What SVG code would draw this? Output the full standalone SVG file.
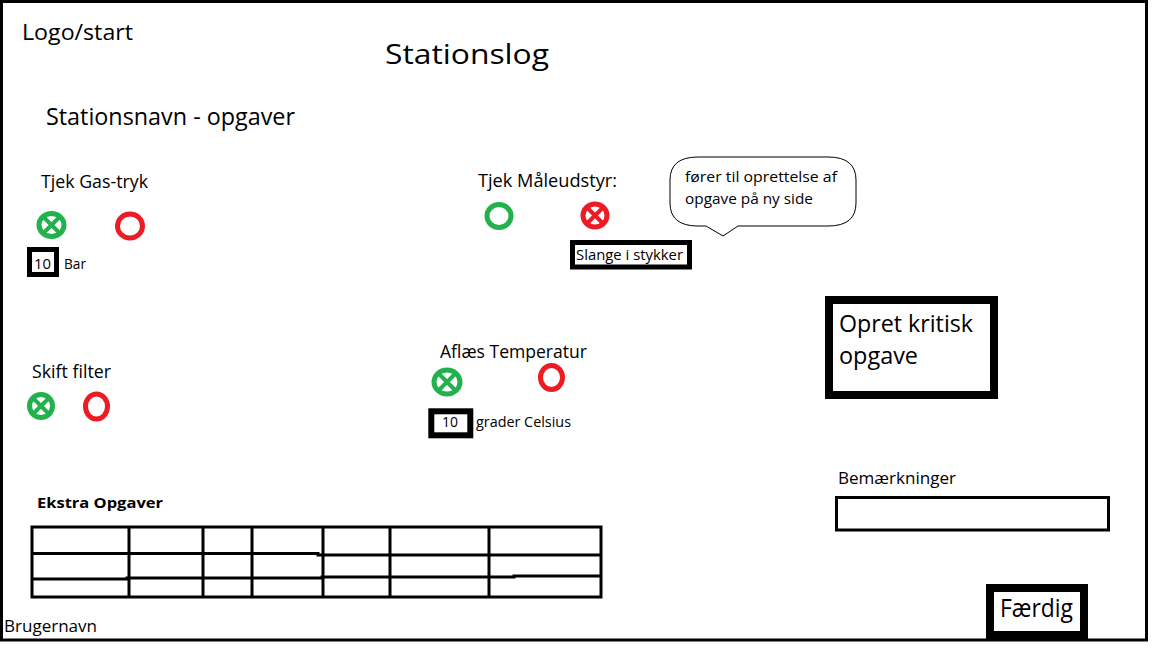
<svg xmlns="http://www.w3.org/2000/svg" width="1152" height="648" viewBox="0 0 1152 648">
<style>
text{font-family:"Open Sans","Noto Sans","Liberation Sans",sans-serif;fill:#000}
.t{font-size:18px}
.s{font-size:14px}
.box{fill:#fff;stroke:#000}
.g{fill:none;stroke:#22B14C;stroke-width:5}
.gx{fill:none;stroke:#22B14C;stroke-width:4}
.r{fill:none;stroke:#ED1C24;stroke-width:5}
.rx{fill:none;stroke:#ED1C24;stroke-width:4}
.tbl{fill:none;stroke:#000;stroke-width:3}
</style>
<rect x="0" y="0" width="1152" height="648" fill="#fff"/>
<rect id="frame" x="1.5" y="1.5" width="1145" height="638.5" fill="none" stroke="#000" stroke-width="3"/>

<g id="header">
<text x="22" y="40" font-size="21" textLength="111" lengthAdjust="spacingAndGlyphs">Logo/start</text>
<text x="385" y="64" font-size="28" textLength="164" lengthAdjust="spacingAndGlyphs">Stationslog</text>
<text x="46" y="125" font-size="23" textLength="249" lengthAdjust="spacingAndGlyphs">Stationsnavn - opgaver</text>
</g>

<g id="task-gas">
<text class="t" x="41" y="188" textLength="107" lengthAdjust="spacingAndGlyphs">Tjek Gas-tryk</text>
<ellipse class="g" cx="51.5" cy="225" rx="12.5" ry="11.5"/>
<path class="gx" d="M44,217.5 L59,232.5 M59,217.5 L44,232.5"/>
<ellipse class="r" cx="130" cy="226" rx="12.5" ry="12"/>
<rect class="box" x="29.5" y="249.5" width="27" height="25" stroke-width="5"/>
<text class="s" x="34" y="269" textLength="17" lengthAdjust="spacingAndGlyphs">10</text>
<text class="s" x="64" y="269" textLength="22" lengthAdjust="spacingAndGlyphs">Bar</text>
</g>

<g id="task-maal">
<text class="t" x="478" y="187" textLength="139" lengthAdjust="spacingAndGlyphs">Tjek Måleudstyr:</text>
<ellipse class="g" cx="499" cy="216" rx="12" ry="11.5"/>
<ellipse class="r" cx="595" cy="215.5" rx="12" ry="11.5"/>
<path class="rx" d="M587.5,208 L602.5,223 M602.5,208 L587.5,223"/>
<rect class="box" x="572.5" y="242.5" width="117" height="24.5" stroke-width="5"/>
<text class="s" x="576" y="259.5" textLength="107" lengthAdjust="spacingAndGlyphs">Slange i stykker</text>
</g>

<g id="callout">
<path d="M698,157 H828 Q856,157 856,180 V203 Q856,226 828,226 H738 L723,236 L706,226 H698 Q670,226 670,203 V180 Q670,157 698,157 Z" fill="#fff" stroke="#000" stroke-width="1"/>
<text class="s" x="685" y="182" textLength="152" lengthAdjust="spacingAndGlyphs">fører til oprettelse af</text>
<text class="s" x="685" y="204" textLength="128" lengthAdjust="spacingAndGlyphs">opgave på ny side</text>
</g>

<g id="btn-kritisk">
<rect class="box" x="829" y="300" width="165" height="95" stroke-width="8"/>
<text x="839" y="332" font-size="24" textLength="134" lengthAdjust="spacingAndGlyphs">Opret kritisk</text>
<text x="839" y="364" font-size="24" textLength="79" lengthAdjust="spacingAndGlyphs">opgave</text>
</g>

<g id="task-filter">
<text class="t" x="32" y="378" textLength="79" lengthAdjust="spacingAndGlyphs">Skift filter</text>
<ellipse class="g" cx="41" cy="406" rx="11.5" ry="11.5"/>
<path class="gx" d="M34,399 L48,413 M48,399 L34,413"/>
<ellipse class="r" cx="96.5" cy="406.5" rx="11" ry="12.5"/>
</g>

<g id="task-temp">
<text class="t" x="440" y="358" textLength="147" lengthAdjust="spacingAndGlyphs">Aflæs Temperatur</text>
<ellipse class="g" cx="447" cy="382" rx="13" ry="12"/>
<path class="gx" d="M439.5,374.5 L454.5,389.5 M454.5,374.5 L439.5,389.5"/>
<ellipse class="r" cx="551.5" cy="377.5" rx="11" ry="12"/>
<rect class="box" x="431.3" y="411.3" width="39" height="24" stroke-width="6"/>
<text class="s" x="442" y="427" textLength="16" lengthAdjust="spacingAndGlyphs">10</text>
<text class="s" x="476" y="427" textLength="95" lengthAdjust="spacingAndGlyphs">grader Celsius</text>
</g>

<g id="remarks">
<text x="838" y="484" font-size="16" textLength="118" lengthAdjust="spacingAndGlyphs">Bemærkninger</text>
<rect class="box" x="836.5" y="497.5" width="272" height="32.5" stroke-width="3"/>
</g>

<g id="btn-faerdig">
<rect class="box" x="990" y="588" width="94" height="47" stroke-width="8"/>
<text x="1000" y="617" font-size="25" textLength="73" lengthAdjust="spacingAndGlyphs">Færdig</text>
</g>

<g id="extra-tasks">
<text x="37" y="508" font-size="15" font-weight="bold" textLength="126" lengthAdjust="spacingAndGlyphs">Ekstra Opgaver</text>
<rect class="tbl" x="32" y="527" width="569" height="70"/>
<path class="tbl" d="M129,527 V597 M203,527 V597 M252,527 V597 M323,527 V597 M390,527 V597 M489,527 V597"/>
<path class="tbl" d="M32,553.5 H318 V555 H601"/>
<path class="tbl" d="M32,579 H127 V578 H322 V577 H514 V576 H601"/>
</g>

<g id="footer">
<text x="4" y="632" font-size="16" textLength="93" lengthAdjust="spacingAndGlyphs">Brugernavn</text>
</g>
</svg>
